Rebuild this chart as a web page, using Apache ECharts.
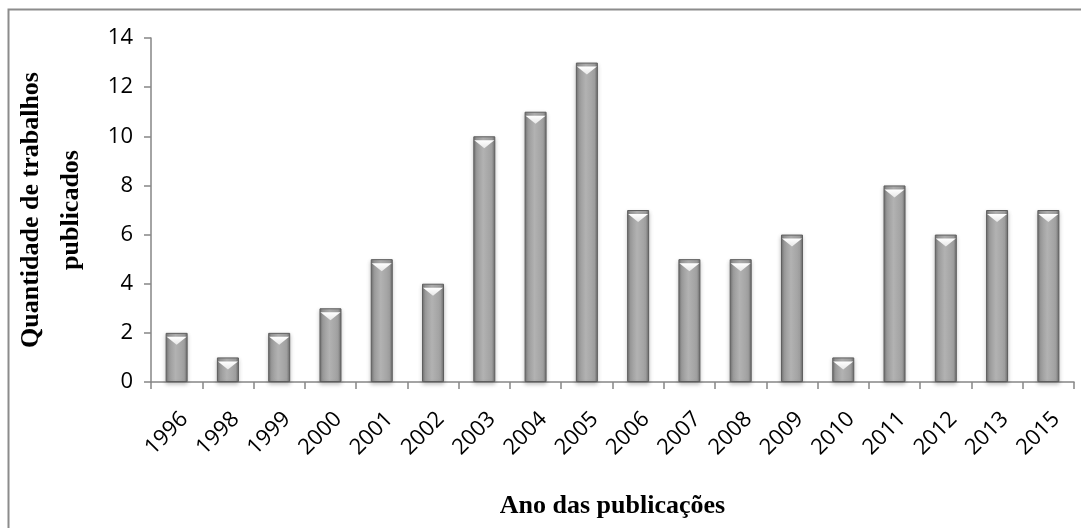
<!DOCTYPE html>
<html>
<head>
<meta charset="utf-8">
<style>
  html, body { margin: 0; padding: 0; background: #fff; }
  #chart { width: 1081px; height: 528px; }
</style>
<script src="https://cdn.jsdelivr.net/npm/echarts@6/dist/echarts.min.js"></script>
</head>
<body>
<div id="chart"></div>
<script>
const years = ['1996','1998','1999','2000','2001','2002','2003','2004','2005','2006','2007','2008','2009','2010','2011','2012','2013','2015'];
const publications = [2, 1, 2, 3, 5, 4, 10, 11, 13, 7, 5, 5, 6, 1, 8, 6, 7, 7];
const yTicks = { min: 0, max: 14, interval: 2 };

const chart = echarts.init(document.getElementById('chart'), null, { renderer: 'canvas' });

// bevelled grey column: darker rims, lighter body
const barFill = new echarts.graphic.LinearGradient(0, 0, 1, 0, [
  { offset: 0, color: '#707070' },
  { offset: 0.15, color: '#9a9a9a' },
  { offset: 0.45, color: '#b2b2b2' },
  { offset: 0.85, color: '#a0a0a0' },
  { offset: 1, color: '#6a6a6a' }
]);
const capFill = new echarts.graphic.LinearGradient(0, 0, 0, 1, [
  { offset: 0, color: '#ffffff' },
  { offset: 1, color: '#e8e8e8' }
]);

const labelFont = '"Open Sans", "Liberation Sans", sans-serif';
const titleFont = '"Liberation Serif", "DejaVu Serif", serif';

chart.setOption({
  animation: false,
  backgroundColor: '#ffffff',
  graphic: [{
    type: 'rect',
    shape: { x: 8.5, y: 9.5, width: 1100, height: 540 },
    style: { fill: 'none', stroke: '#8c8c8c', lineWidth: 2 },
    silent: true
  }],
  grid: { left: 151, right: 7, top: 38, bottom: 146, containLabel: false, outerBoundsMode: 'none' },
  xAxis: {
    type: 'category',
    data: years,
    boundaryGap: true,
    name: 'Ano das publicações',
    nameLocation: 'middle',
    nameGap: 111,
    nameTextStyle: { fontFamily: titleFont, fontWeight: 'bold', fontSize: 26, color: '#000' },
    axisLine: { lineStyle: { color: '#868686', width: 1.5 } },
    axisTick: { show: true, alignWithLabel: false, length: 7, lineStyle: { color: '#868686', width: 1.5 } },
    axisLabel: { rotate: 45, verticalAlign: 'top', fontFamily: labelFont, fontSize: 22, color: '#000', margin: 26, interval: 0 }
  },
  yAxis: {
    type: 'value',
    min: yTicks.min,
    max: yTicks.max,
    interval: yTicks.interval,
    name: 'Quantidade de trabalhos\npublicados',
    nameLocation: 'middle',
    nameRotate: 90,
    nameGap: 60,
    nameTextStyle: { fontFamily: titleFont, fontWeight: 'bold', fontSize: 26, color: '#000', lineHeight: 40 },
    splitLine: { show: false },
    axisLine: { show: true, lineStyle: { color: '#868686', width: 1.5 } },
    axisTick: { show: true, length: 7, lineStyle: { color: '#868686', width: 1.5 } },
    axisLabel: { fontFamily: labelFont, fontSize: 22, color: '#000', margin: 18 }
  },
  series: [{
    type: 'bar',
    data: publications,
    barWidth: 22,
    itemStyle: {
      color: barFill,
      borderColor: '#5e5e5e',
      borderWidth: 1,
      shadowColor: 'rgba(0,0,0,0.22)',
      shadowBlur: 4,
      shadowOffsetY: 2
    },
    z: 2
  }, {
    type: 'pictorialBar',
    data: publications,
    symbol: 'path://M0,0 L20,0 L10,8 Z',
    symbolSize: [20, 8],
    symbolPosition: 'end',
    symbolOffset: [0, 4],
    barGap: '-100%',
    itemStyle: { color: capFill },
    z: 3
  }]
});
</script>
</body>
</html>
